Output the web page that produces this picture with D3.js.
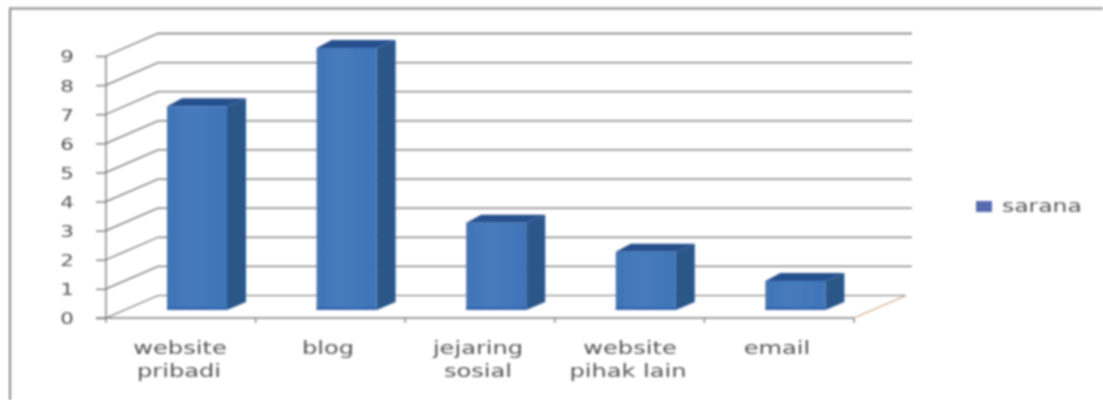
<!DOCTYPE html>
<html><head><meta charset="utf-8">
<script src="https://cdn.jsdelivr.net/npm/d3@7"></script>
<style>html,body{margin:0;padding:0;background:#fff;overflow:hidden}svg{display:block}text{font-family:"DejaVu Sans",sans-serif;fill:#555}</style>
</head><body><svg id="c" width="1103" height="400"></svg>
<script>
const categories=[["website","pribadi"],["blog"],["jejaring","sosial"],["website","pihak lain"],["email"]];
const values=[7,9,3,2,1];
const yTicks=[0,1,2,3,4,5,6,7,8,9];
const seriesName="sarana";

const svg=d3.select("#c");
const defs=svg.append("defs");
defs.append("filter").attr("id","soft").append("feGaussianBlur").attr("stdDeviation",0.8);
const g=defs.append("linearGradient").attr("id","front").attr("x1",0).attr("x2",1).attr("y1",0).attr("y2",0);
g.append("stop").attr("offset","0%").attr("stop-color","#3f74b6");
g.append("stop").attr("offset","40%").attr("stop-color","#467bbc");
g.append("stop").attr("offset","100%").attr("stop-color","#3f75b8");
const root=svg.append("g").attr("filter","url(#soft)");

// frame: only the top and left edges are visible
root.append("path").attr("d","M10,400V8.5H1103").attr("fill","none").attr("stroke","#868686").attr("stroke-width",2);

const x=d3.scaleBand().domain(d3.range(categories.length)).range([106,854]);
const y=d3.scaleLinear().domain([0,9]).range([318,56]);
const depthX=52,depthY=-22.5,backRight=912;
const grid="#6f6f6f";

// gridlines
yTicks.slice(1).forEach(t=>{
  root.append("path").attr("d",`M${x.range()[0]},${y(t)}L${x.range()[0]+depthX},${y(t)+depthY}H${backRight}`)
    .attr("fill","none").attr("stroke",grid).attr("stroke-width",1.3);
});
// floor
root.append("path").attr("d",`M106,318L158,${318+depthY}H906`).attr("fill","none").attr("stroke",grid).attr("stroke-width",1.2);
root.append("path").attr("d",`M854,318L906,${318+depthY}`).attr("fill","none").attr("stroke","#c9a27c").attr("stroke-width",1.1);

// axes
const yAxis=d3.axisLeft(y).tickValues(yTicks).tickSize(10).tickPadding(0).tickFormat(d3.format("d"));
const ya=root.append("g").attr("transform","translate(106,0)").call(yAxis);
ya.selectAll("path,line").attr("stroke","#7c7c7c").attr("stroke-width",1.4);
ya.select(".domain").attr("d","M0,56V318");
ya.selectAll("text").attr("x",0).attr("font-size",16.5).attr("font-family","DejaVu Sans").attr("fill","#555")
  .attr("text-anchor","middle").attr("dy","0.36em").attr("transform","translate(-39,0) scale(1.3,1)");

const xAxis=root.append("g");
xAxis.append("path").attr("d","M96,318H854").attr("stroke","#7c7c7c").attr("stroke-width",1.4);
d3.range(categories.length+1).forEach(i=>{
  const px=i<categories.length?x(i):x.range()[1];
  xAxis.append("path").attr("d",`M${px},318V323`).attr("stroke","#7c7c7c").attr("stroke-width",1.3);
});

// bars
const barW=60, offX=61, baseDrop=8, sideX=19, sideY=-8;
const bars=root.selectAll("g.bar").data(values).join("g").attr("class","bar");
const fx=(d,i)=>x(i)+offX, ty=d=>y(d)-baseDrop;
bars.append("path").attr("fill","#2b5688").attr("d",(d,i)=>{
  const a=fx(d,i)+barW,t=ty(d),b=y(0)-baseDrop;
  return `M${a},${t}l${sideX},${sideY}V${b+sideY}l${-sideX},${-sideY}Z`;});
bars.append("path").attr("fill","#264f8e").attr("d",(d,i)=>{
  const a=fx(d,i),t=ty(d);
  return `M${a},${t}l${sideX-4},${sideY}h${barW+4}l${-sideX},${-sideY}Z`;});
bars.append("rect").attr("x",fx).attr("y",ty).attr("width",barW).attr("height",d=>y(0)-y(d)).attr("fill","url(#front)");
bars.append("rect").attr("x",fx).attr("y",d=>y(0)-baseDrop-3).attr("width",barW).attr("height",3).attr("fill","#3468b0");

// category labels
const labelX=[[180,179],[328],[478,478],[630,628],[777]];
categories.forEach((lines,i)=>{
  lines.forEach((s,j)=>{
    root.append("text").attr("transform",`translate(${labelX[i][j]},${354+j*23}) scale(1.42,1)`)
      .attr("text-anchor","middle").attr("font-size",17).text(s);
  });
});

// legend
root.append("rect").attr("x",976).attr("y",201).attr("width",16).attr("height",11).attr("fill","#566ab0");
root.append("text").attr("transform","translate(1002,212) scale(1.38,1)").attr("font-size",17).text(seriesName);
</script></body></html>
